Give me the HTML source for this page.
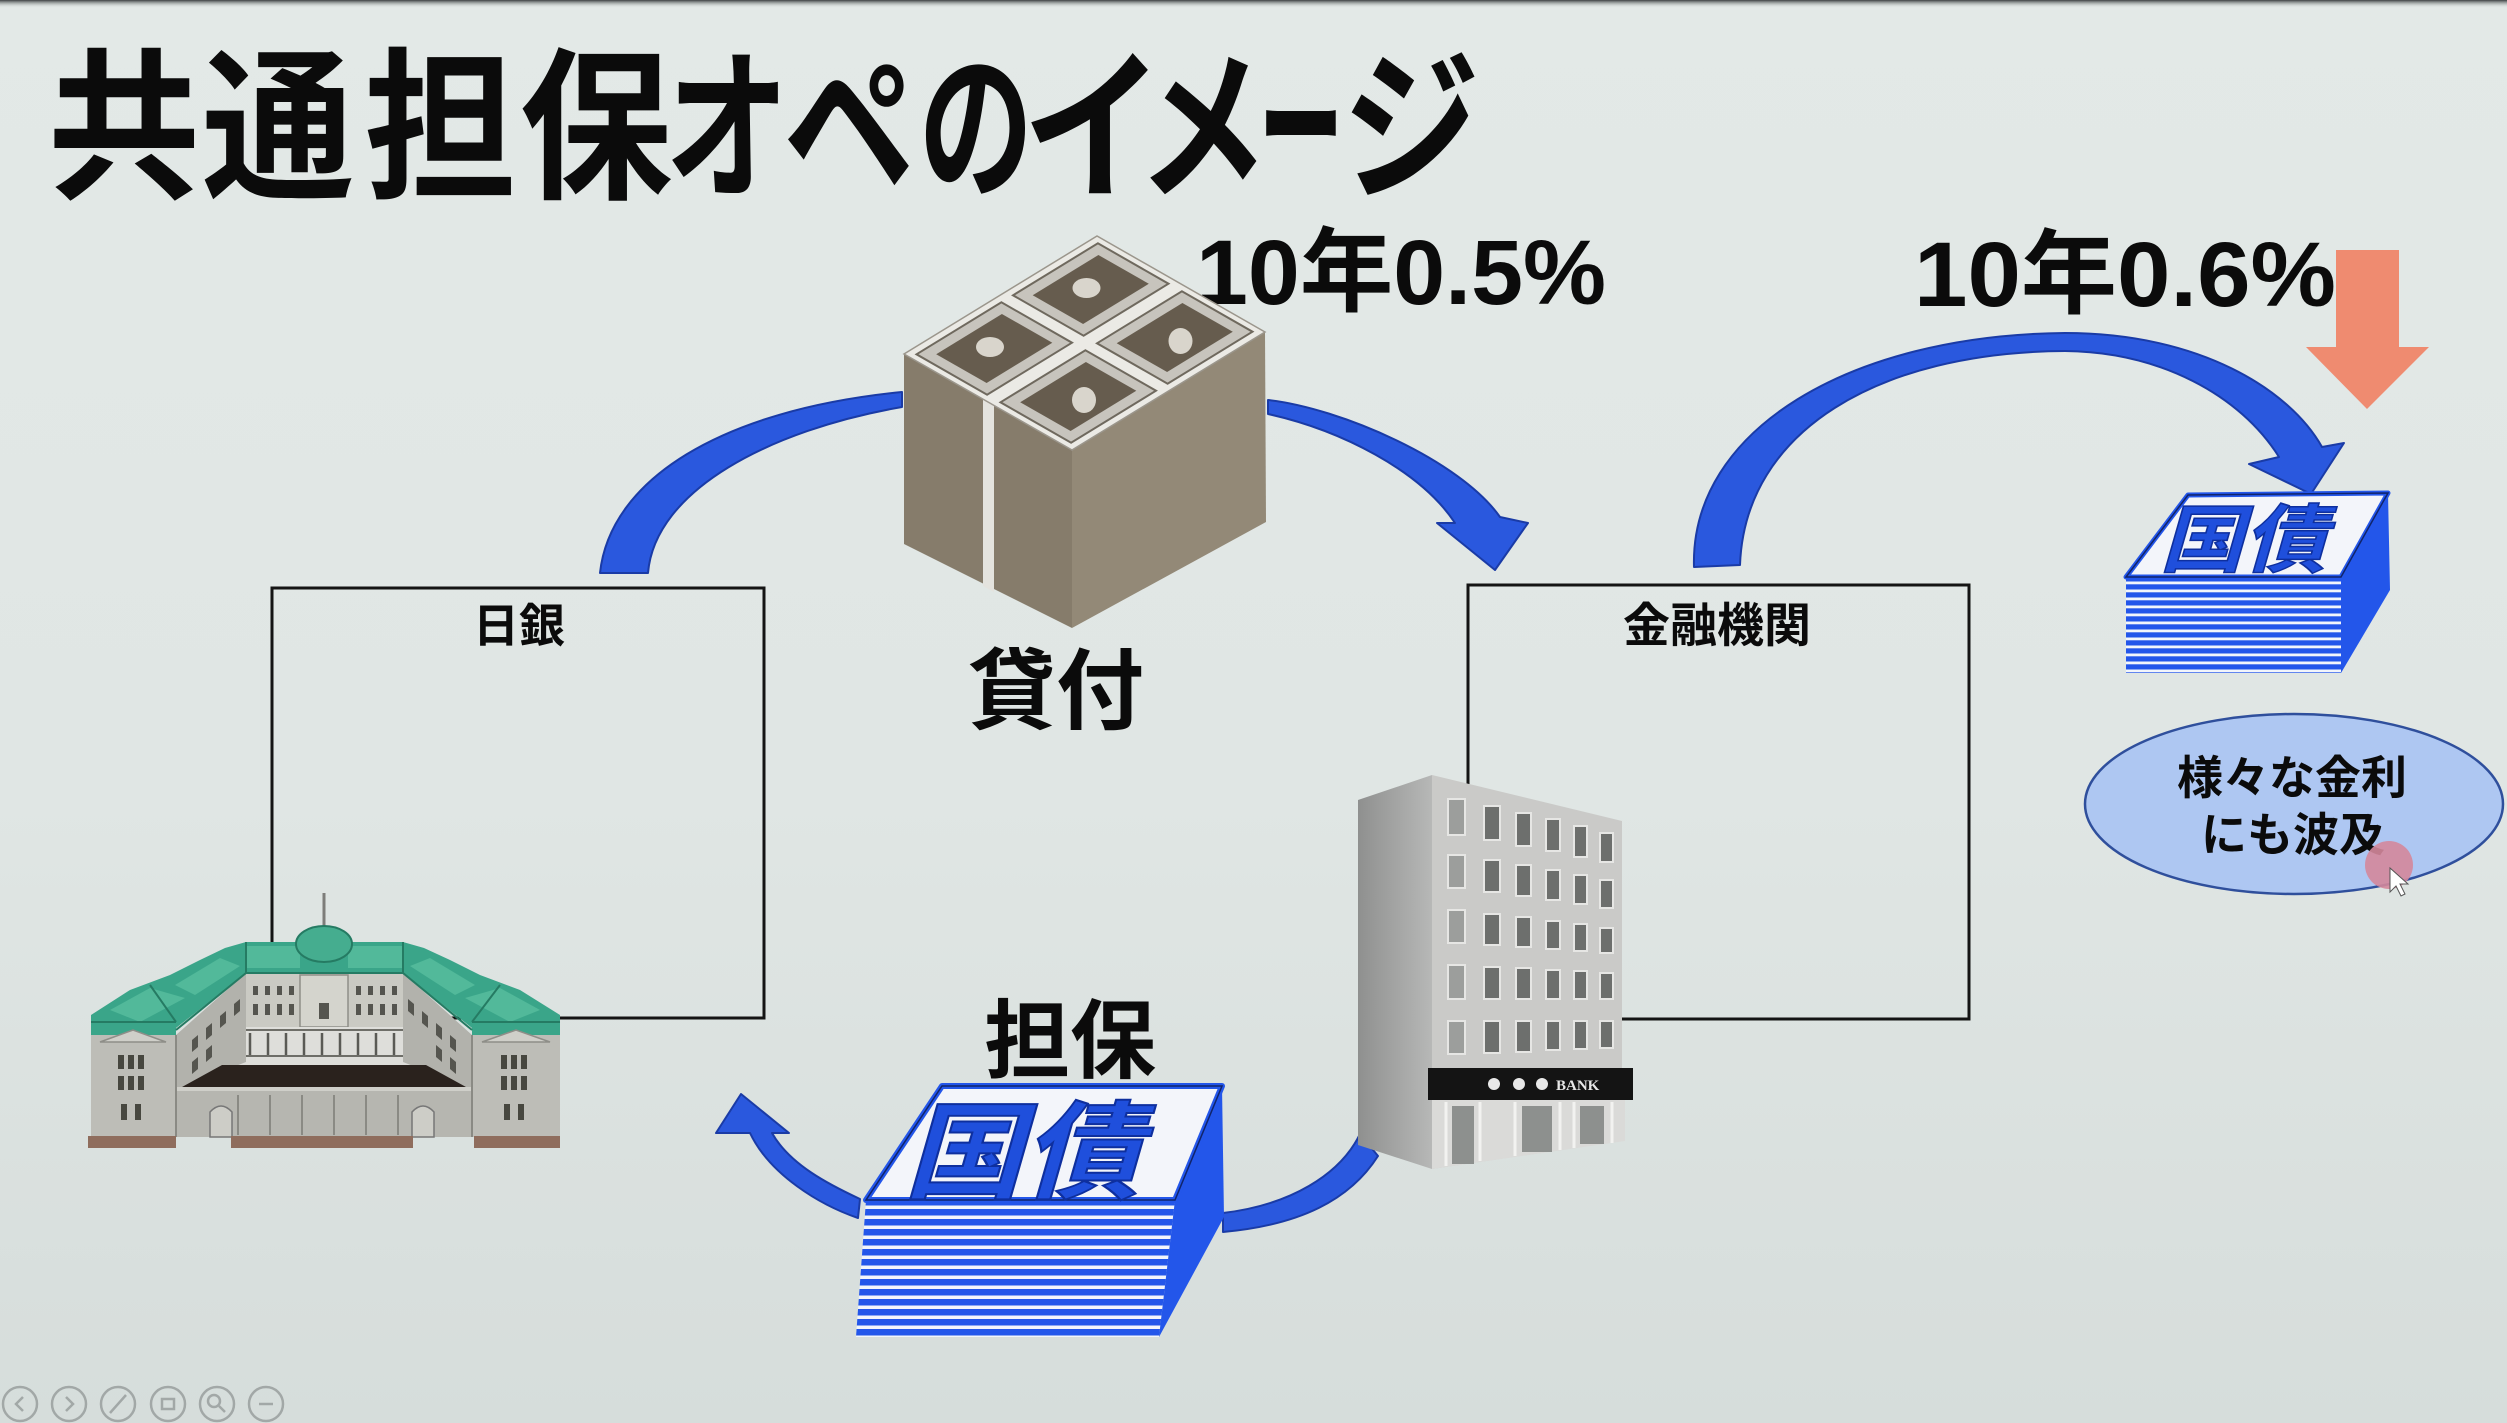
<!DOCTYPE html>
<html>
<head>
<meta charset="utf-8">
<style>
html,body{margin:0;padding:0;}
body{width:2507px;height:1423px;overflow:hidden;background:#e0e6e4;}
svg{display:block;}
text{font-family:"Liberation Sans","Noto Sans CJK JP",sans-serif;font-weight:bold;}
</style>
</head>
<body>
<svg width="2507" height="1423" viewBox="0 0 2507 1423" xmlns="http://www.w3.org/2000/svg">
<defs>
  <linearGradient id="bg" x1="0" y1="0" x2="0" y2="1">
    <stop offset="0" stop-color="#e3e9e7"/>
    <stop offset="0.55" stop-color="#e0e6e4"/>
    <stop offset="1" stop-color="#d6dddb"/>
  </linearGradient>
  <linearGradient id="topdark" x1="0" y1="0" x2="0" y2="1">
    <stop offset="0" stop-color="#3d4142"/>
    <stop offset="1" stop-color="#e3e9e7" stop-opacity="0"/>
  </linearGradient>
  <linearGradient id="bldLeft" x1="0" y1="0" x2="1" y2="0">
    <stop offset="0" stop-color="#8f908f"/>
    <stop offset="1" stop-color="#b7b8b7"/>
  </linearGradient>
  <pattern id="stripeB" patternUnits="userSpaceOnUse" x="0" y="1200" width="20" height="10">
    <rect x="0" y="0" width="20" height="10" fill="#2356ea"/>
    <rect x="0" y="5.5" width="20" height="3.5" fill="#f2f5fb"/>
  </pattern>
  <pattern id="stripeR" patternUnits="userSpaceOnUse" x="0" y="577" width="20" height="8">
    <rect x="0" y="0" width="20" height="8" fill="#2356ea"/>
    <rect x="0" y="4.5" width="20" height="2.8" fill="#f2f5fb"/>
  </pattern>
</defs>

<!-- background -->
<rect x="0" y="0" width="2507" height="1423" fill="url(#bg)"/>
<rect x="0" y="0" width="2507" height="8" fill="url(#topdark)"/>

<!-- Title -->
<g fill="#0b0b0b" font-size="164">
  <text transform="translate(124,186) scale(0.93,1)" text-anchor="middle">共</text>
  <text transform="translate(278,186) scale(0.93,1)" text-anchor="middle">通</text>
  <text transform="translate(440,186) scale(0.93,1)" text-anchor="middle">担</text>
  <text transform="translate(596,186) scale(0.93,1)" text-anchor="middle">保</text>
  <text transform="translate(727,186) scale(0.76,1)" text-anchor="middle">オ</text>
  <text transform="translate(849,186) scale(0.8,1)" text-anchor="middle">ペ</text>
  <text transform="translate(976,186) scale(0.7,1)" text-anchor="middle">の</text>
  <text transform="translate(1093,186) scale(0.86,1)" text-anchor="middle">イ</text>
  <text transform="translate(1203,186) scale(0.8,1)" text-anchor="middle">メ</text>
  <text transform="translate(1301,186) scale(0.52,1)" text-anchor="middle">ー</text>
  <text transform="translate(1411,186) scale(0.84,1)" text-anchor="middle">ジ</text>
</g>

<!-- rate labels -->
<text x="1196" y="304" font-size="92" fill="#0b0b0b" textLength="410" lengthAdjust="spacingAndGlyphs">10年0.5%</text>
<text x="1914" y="306" font-size="92" fill="#0b0b0b" textLength="422" lengthAdjust="spacingAndGlyphs">10年0.6%</text>

<!-- boxes -->
<rect x="272" y="588" width="492" height="430" fill="none" stroke="#141414" stroke-width="3"/>
<rect x="1468" y="585" width="501" height="434" fill="none" stroke="#141414" stroke-width="3"/>
<text x="519" y="642" font-size="46" fill="#0b0b0b" text-anchor="middle">日銀</text>
<text x="1717" y="642" font-size="47" fill="#0b0b0b" text-anchor="middle">金融機関</text>

<!-- blue arrows -->
<g fill="#2a58de" stroke="#1a3ba6" stroke-width="2" stroke-linejoin="round">
  <path d="M600,573 C610,480 720,410 902,392 L902,407 C770,430 655,490 648,573 Z"/>
  <path d="M1268,400 C1340,408 1460,460 1500,517 L1528,523 L1495,570 L1437,523 L1455,523 C1420,470 1340,430 1268,414 Z"/>
  <path d="M1694,567 C1690,430 1850,335 2065,333 C2200,333 2290,390 2322,447 L2344,443 L2311,494 L2249,464 L2279,457 C2240,395 2160,352 2065,351 C1880,352 1745,430 1740,565 Z"/>
  <path d="M1360,1134 C1340,1175 1290,1205 1223,1213 L1223,1232 C1300,1225 1350,1200 1378,1156 Z"/>
  <path d="M860,1199 C830,1185 790,1165 772,1133 L789,1133 L741,1094 L716,1133 L750,1133 C770,1175 820,1205 858,1218 Z"/>
</g>

<!-- orange arrow -->
<polygon points="2336,250 2399,250 2399,347 2429,347 2367,409 2306,347 2336,347" fill="#ef8b70"/>

<!-- money stack -->
<g>
  <polygon points="904,354 1072,450 1072,628 904,544" fill="#867c6b"/>
  <polygon points="1072,450 1265,332 1266,522 1072,628" fill="#938977"/>
  <polygon points="983,399 994,405 994,592 983,586" fill="#e4e3de"/>
  <polygon points="904,354 1097,236 1265,332 1072,450" fill="#ebeae5" stroke="#9b968c" stroke-width="1.5"/>
  <g>
    <polygon points="916.5,354.3 1001.4,302.3 1072,342.7 987.1,394.7" fill="#c7c4bd" stroke="#6f695e" stroke-width="2"/>
    <polygon points="936.2,354.2 1001.9,314 1052.3,342.8 986.6,383" fill="#665c4e"/>
    <ellipse cx="990" cy="347" rx="14" ry="10" fill="#d9d5cc"/>
  </g>
  <g transform="translate(96.5,-59)">
    <polygon points="916.5,354.3 1001.4,302.3 1072,342.7 987.1,394.7" fill="#c7c4bd" stroke="#6f695e" stroke-width="2"/>
    <polygon points="936.2,354.2 1001.9,314 1052.3,342.8 986.6,383" fill="#665c4e"/>
    <ellipse cx="990" cy="347" rx="14" ry="10" fill="#d9d5cc"/>
  </g>
  <g transform="translate(84,48)">
    <polygon points="916.5,354.3 1001.4,302.3 1072,342.7 987.1,394.7" fill="#c7c4bd" stroke="#6f695e" stroke-width="2"/>
    <polygon points="936.2,354.2 1001.9,314 1052.3,342.8 986.6,383" fill="#665c4e"/>
    <ellipse cx="1000" cy="352" rx="12" ry="13" fill="#d9d5cc"/>
  </g>
  <g transform="translate(180.5,-11)">
    <polygon points="916.5,354.3 1001.4,302.3 1072,342.7 987.1,394.7" fill="#c7c4bd" stroke="#6f695e" stroke-width="2"/>
    <polygon points="936.2,354.2 1001.9,314 1052.3,342.8 986.6,383" fill="#665c4e"/>
    <ellipse cx="1000" cy="352" rx="12" ry="13" fill="#d9d5cc"/>
  </g>
</g>
<text x="1056" y="722" font-size="88" fill="#0b0b0b" text-anchor="middle">貸付</text>

<!-- Bank of Japan building -->
<g>
  <line x1="324" y1="893" x2="324" y2="932" stroke="#7d7d7a" stroke-width="3"/>
  <!-- back facade -->
  <rect x="244" y="968" width="162" height="98" fill="#cacac3"/>
  <rect x="300" y="975" width="48" height="52" fill="#d4d4cd" stroke="#8e8e88" stroke-width="1.5"/>
  <g fill="#55554f">
    <rect x="253" y="986" width="5" height="9"/><rect x="265" y="986" width="5" height="9"/><rect x="277" y="986" width="5" height="9"/><rect x="289" y="986" width="5" height="9"/>
    <rect x="253" y="1004" width="5" height="11"/><rect x="265" y="1004" width="5" height="11"/><rect x="277" y="1004" width="5" height="11"/><rect x="289" y="1004" width="5" height="11"/>
    <rect x="319" y="1003" width="10" height="16"/>
    <rect x="356" y="986" width="5" height="9"/><rect x="368" y="986" width="5" height="9"/><rect x="380" y="986" width="5" height="9"/><rect x="392" y="986" width="5" height="9"/>
    <rect x="356" y="1004" width="5" height="11"/><rect x="368" y="1004" width="5" height="11"/><rect x="380" y="1004" width="5" height="11"/><rect x="392" y="1004" width="5" height="11"/>
  </g>
  <!-- colonnade -->
  <rect x="222" y="1027" width="204" height="38" fill="#dededa"/>
  <g stroke="#6e6e68" stroke-width="2">
    <line x1="222" y1="1030" x2="426" y2="1030"/>
    <line x1="222" y1="1056" x2="426" y2="1056"/>
  </g>
  <g stroke="#5a5a55" stroke-width="2.5">
    <line x1="232" y1="1033" x2="232" y2="1055"/><line x1="250" y1="1033" x2="250" y2="1055"/><line x1="268" y1="1033" x2="268" y2="1055"/>
    <line x1="286" y1="1033" x2="286" y2="1055"/><line x1="304" y1="1033" x2="304" y2="1055"/><line x1="322" y1="1033" x2="322" y2="1055"/>
    <line x1="340" y1="1033" x2="340" y2="1055"/><line x1="358" y1="1033" x2="358" y2="1055"/><line x1="376" y1="1033" x2="376" y2="1055"/>
    <line x1="394" y1="1033" x2="394" y2="1055"/><line x1="412" y1="1033" x2="412" y2="1055"/>
  </g>
  <!-- inner slanted wings -->
  <polygon points="176,1035 246,973 246,1062 182,1087 176,1087" fill="#b2b2ac"/>
  <polygon points="472,1035 403,973 403,1062 466,1087 472,1087" fill="#b2b2ac"/>
  <g fill="#55554f">
    <polygon points="192,1040 198,1035 198,1047 192,1052"/><polygon points="206,1028 212,1023 212,1035 206,1040"/><polygon points="220,1016 226,1011 226,1023 220,1028"/><polygon points="234,1004 240,999 240,1011 234,1016"/>
    <polygon points="192,1062 198,1057 198,1069 192,1074"/><polygon points="206,1050 212,1045 212,1057 206,1062"/>
    <polygon points="456,1040 450,1035 450,1047 456,1052"/><polygon points="442,1028 436,1023 436,1035 442,1040"/><polygon points="428,1016 422,1011 422,1023 428,1028"/><polygon points="414,1004 408,999 408,1011 414,1016"/>
    <polygon points="456,1062 450,1057 450,1069 456,1074"/><polygon points="442,1050 436,1045 436,1057 442,1062"/>
  </g>
  <!-- courtyard -->
  <polygon points="222,1065 426,1065 466,1087 182,1087" fill="#2a221d"/>
  <!-- roof -->
  <polygon fill="#3aa589" points="91,1035 91,1015 130,990 170,975 200,960 225,948 246,942 310,942 324,925 338,942 403,942 424,948 450,960 480,975 520,990 560,1015 560,1035 472,1035 472,1028 403,973 246,973 176,1028 176,1035"/>
  <g fill="#52b99a">
    <polygon points="246,946 300,946 300,968 246,968"/>
    <polygon points="348,946 403,946 403,968 348,968"/>
    <polygon points="110,1010 150,988 185,998 140,1022"/>
    <polygon points="540,1010 500,988 465,998 510,1022"/>
    <polygon points="175,985 220,958 240,966 195,995"/>
    <polygon points="475,985 430,958 410,966 455,995"/>
  </g>
  <g stroke="#257b63" stroke-width="2" fill="none">
    <polyline points="176,1030 246,973 403,973 472,1030"/>
    <line x1="246" y1="942" x2="246" y2="973"/>
    <line x1="403" y1="942" x2="403" y2="973"/>
    <line x1="91" y1="1022" x2="176" y2="1022"/>
    <line x1="472" y1="1022" x2="560" y2="1022"/>
    <line x1="150" y1="985" x2="176" y2="1022"/>
    <line x1="500" y1="985" x2="472" y2="1022"/>
  </g>
  <ellipse cx="324" cy="944" rx="28" ry="18" fill="#45ad8f" stroke="#257b63" stroke-width="2"/>
  <!-- side pavilions and front -->
  <rect x="91" y="1035" width="85" height="102" fill="#bdbdb7"/>
  <rect x="472" y="1035" width="88" height="102" fill="#bdbdb7"/>
  <polygon points="100,1042 133,1030 166,1042" fill="#cfcfc9" stroke="#8e8e88" stroke-width="1.5"/>
  <polygon points="482,1042 516,1030 550,1042" fill="#cfcfc9" stroke="#8e8e88" stroke-width="1.5"/>
  <rect x="176" y="1087" width="296" height="50" fill="#b6b6b0"/>
  <rect x="176" y="1087" width="296" height="4" fill="#cfcfc9"/>
  <g fill="#47473f">
    <rect x="118" y="1055" width="6" height="14"/><rect x="128" y="1055" width="6" height="14"/><rect x="138" y="1055" width="6" height="14"/>
    <rect x="118" y="1076" width="6" height="14"/><rect x="128" y="1076" width="6" height="14"/><rect x="138" y="1076" width="6" height="14"/>
    <rect x="121" y="1104" width="6" height="16"/><rect x="135" y="1104" width="6" height="16"/>
    <rect x="501" y="1055" width="6" height="14"/><rect x="511" y="1055" width="6" height="14"/><rect x="521" y="1055" width="6" height="14"/>
    <rect x="501" y="1076" width="6" height="14"/><rect x="511" y="1076" width="6" height="14"/><rect x="521" y="1076" width="6" height="14"/>
    <rect x="504" y="1104" width="6" height="16"/><rect x="518" y="1104" width="6" height="16"/>
  </g>
  <g stroke="#8a8a84" stroke-width="2">
    <line x1="238" y1="1095" x2="238" y2="1135"/><line x1="270" y1="1095" x2="270" y2="1135"/><line x1="302" y1="1095" x2="302" y2="1135"/>
    <line x1="334" y1="1095" x2="334" y2="1135"/><line x1="366" y1="1095" x2="366" y2="1135"/><line x1="398" y1="1095" x2="398" y2="1135"/>
    <line x1="176" y1="1035" x2="176" y2="1137"/><line x1="472" y1="1035" x2="472" y2="1137"/>
  </g>
  <path d="M210,1137 L210,1112 Q221,1100 232,1112 L232,1137 Z" fill="#cdcdc7" stroke="#777" stroke-width="1.5"/>
  <path d="M412,1137 L412,1112 Q423,1100 434,1112 L434,1137 Z" fill="#cdcdc7" stroke="#777" stroke-width="1.5"/>
  <rect x="88" y="1136" width="88" height="12" fill="#8f6d5d"/>
  <rect x="231" y="1136" width="182" height="12" fill="#8f6d5d"/>
  <rect x="474" y="1136" width="86" height="12" fill="#8f6d5d"/>
</g>

<!-- office building -->
<g>
  <polygon points="1358,800 1432,775 1432,1169 1358,1145" fill="url(#bldLeft)"/>
  <polygon points="1432,775 1622,821 1622,1141 1432,1169" fill="#cacac8"/>
  <g fill="#6d6f6d" stroke="#e6e6e4" stroke-width="2">
    <rect x="1448" y="799" width="17" height="36" fill="#9c9e9c"/><rect x="1448" y="855" width="17" height="33" fill="#9c9e9c"/><rect x="1448" y="910" width="17" height="33" fill="#9c9e9c"/><rect x="1448" y="965" width="17" height="34" fill="#9c9e9c"/><rect x="1448" y="1021" width="17" height="33" fill="#9c9e9c"/>
    <rect x="1484" y="806" width="16" height="34"/><rect x="1484" y="860" width="16" height="32"/><rect x="1484" y="914" width="16" height="31"/><rect x="1484" y="967" width="16" height="32"/><rect x="1484" y="1021" width="16" height="32"/>
    <rect x="1516" y="813" width="15" height="33"/><rect x="1516" y="865" width="15" height="31"/><rect x="1516" y="917" width="15" height="30"/><rect x="1516" y="968" width="15" height="31"/><rect x="1516" y="1021" width="15" height="31"/>
    <rect x="1546" y="819" width="14" height="32"/><rect x="1546" y="870" width="14" height="30"/><rect x="1546" y="921" width="14" height="28"/><rect x="1546" y="970" width="14" height="29"/><rect x="1546" y="1021" width="14" height="29"/>
    <rect x="1574" y="826" width="13" height="31"/><rect x="1574" y="875" width="13" height="29"/><rect x="1574" y="924" width="13" height="27"/><rect x="1574" y="971" width="13" height="28"/><rect x="1574" y="1021" width="13" height="28"/>
    <rect x="1600" y="833" width="13" height="29"/><rect x="1600" y="880" width="13" height="28"/><rect x="1600" y="928" width="13" height="25"/><rect x="1600" y="973" width="13" height="26"/><rect x="1600" y="1021" width="13" height="27"/>
  </g>
  <polygon points="1432,1100 1625,1100 1625,1141 1432,1169" fill="#dadad8"/>
  <g fill="#8d908e">
    <rect x="1452" y="1106" width="22" height="58"/>
    <rect x="1522" y="1106" width="30" height="46"/>
    <rect x="1580" y="1106" width="24" height="38"/>
  </g>
  <g stroke="#f2f2f0" stroke-width="3">
    <line x1="1446" y1="1102" x2="1446" y2="1166"/><line x1="1480" y1="1102" x2="1480" y2="1161"/><line x1="1515" y1="1102" x2="1515" y2="1156"/>
    <line x1="1560" y1="1102" x2="1560" y2="1150"/><line x1="1574" y1="1102" x2="1574" y2="1148"/><line x1="1612" y1="1102" x2="1612" y2="1143"/>
  </g>
  <rect x="1428" y="1068" width="205" height="32" fill="#141414"/>
  <circle cx="1494" cy="1084" r="6" fill="#e8e8e8"/>
  <circle cx="1519" cy="1084" r="6" fill="#e8e8e8"/>
  <circle cx="1542" cy="1084" r="6" fill="#e8e8e8"/>
  <text x="1556" y="1090" font-size="15" fill="#e8e8e8" style="font-family:'Liberation Serif',serif">BANK</text>
</g>

<!-- bottom 国債 stack -->
<g>
  <polygon points="866,1200 1175,1200 1159,1337 856,1337" fill="url(#stripeB)"/>
  <polygon points="1222,1086 1224,1217 1159,1337 1175,1200" fill="#2356ea"/>
  <polygon points="942,1086 1222,1086 1175,1200 866,1200" fill="#f3f5fa" stroke="#2356ea" stroke-width="6" stroke-linejoin="round"/>
  <polygon points="942,1086 1222,1086 1175,1200 866,1200" fill="none" stroke="#10246a" stroke-width="1.5"/>
  <text transform="translate(1022,1190) skewX(-16)" font-size="106" text-anchor="middle" fill="#1f4fdc" stroke="#0e2f9e" stroke-width="2" textLength="236" lengthAdjust="spacingAndGlyphs">国債</text>
</g>
<text x="1070" y="1071" font-size="86" fill="#0b0b0b" text-anchor="middle">担保</text>

<!-- right 国債 stack -->
<g>
  <polygon points="2126,577 2341,577 2341,673 2126,673" fill="url(#stripeR)"/>
  <polygon points="2388,493 2390,590 2341,673 2341,577" fill="#2356ea"/>
  <polygon points="2188,495 2388,493 2341,577 2126,577" fill="#f3f5fa" stroke="#2356ea" stroke-width="5" stroke-linejoin="round"/>
  <polygon points="2188,495 2388,493 2341,577 2126,577" fill="none" stroke="#10246a" stroke-width="1.5"/>
  <text transform="translate(2243,566) skewX(-16)" font-size="74" text-anchor="middle" fill="#1f4fdc" stroke="#0e2f9e" stroke-width="1.5" textLength="166" lengthAdjust="spacingAndGlyphs">国債</text>
</g>

<!-- ellipse -->
<ellipse cx="2294" cy="804" rx="209" ry="90" fill="#aec7f2" stroke="#2f4f9c" stroke-width="2.5"/>
<text x="2292" y="794" font-size="46" fill="#0b0b0b" text-anchor="middle">様々な金利</text>
<text x="2293" y="851" font-size="46" fill="#0b0b0b" text-anchor="middle">にも波及</text>

<!-- pointer -->
<circle cx="2389" cy="865" r="24" fill="#d4879b" opacity="0.9"/>
<path d="M2390,868 L2390,892 L2396,886 L2401,896 L2405,894 L2400,884 L2408,884 Z" fill="#ffffff" stroke="#555" stroke-width="1"/>

<!-- toolbar icons -->
<g fill="none" stroke="#a2a8a7" stroke-width="2.5">
  <circle cx="20" cy="1404" r="17"/>
  <circle cx="69" cy="1404" r="17"/>
  <circle cx="118" cy="1404" r="17"/>
  <circle cx="168" cy="1404" r="17"/>
  <circle cx="217" cy="1404" r="17"/>
  <circle cx="266" cy="1404" r="17"/>
  <polyline points="23,1397 16,1404 23,1411"/>
  <polyline points="66,1397 73,1404 66,1411"/>
  <line x1="110" y1="1413" x2="126" y2="1395"/>
  <rect x="162" y="1399" width="12" height="10"/>
  <circle cx="214" cy="1401" r="6"/>
  <line x1="219" y1="1406" x2="225" y2="1412"/>
  <line x1="259" y1="1404" x2="273" y2="1404"/>
</g>
</svg>
</body>
</html>
